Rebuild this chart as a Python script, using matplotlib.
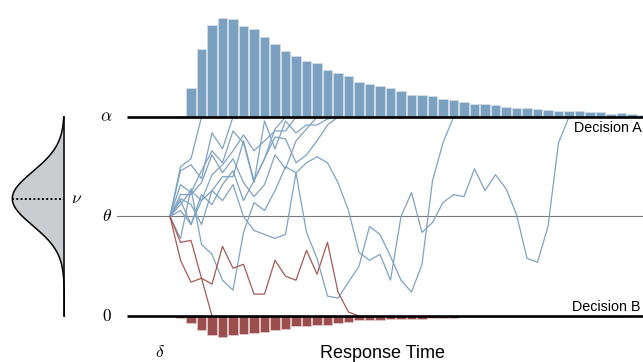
import numpy as np
import matplotlib
matplotlib.use("Agg")
import matplotlib.pyplot as plt

plt.rcParams['font.family'] = ['Liberation Sans', 'DejaVu Sans']
plt.rcParams['mathtext.fontset'] = 'cm'

# boundaries (evidence units)
alpha = 100
theta = 50
zero = 0

# response time histograms (bar heights, one bar per time step)
top_counts = [1, 29, 68, 92, 99, 98, 91, 88, 80, 73, 66, 61, 56, 54, 47, 44, 41, 35, 32.5, 30.5,
              29, 26, 22, 21.7, 20.7, 18, 17, 14.7, 13.3, 13, 11.7, 10, 8.7, 9.3, 8, 7.3, 6.3, 6.3,
              5.7, 4.7, 4.7, 3.3, 4, 3.3, 2.3]
bottom_counts = [1.5, 7, 14, 19, 21, 19, 18, 17, 16, 13.5, 13, 10, 10, 9, 8.5, 7, 6, 4, 4, 3.5,
                 3, 3, 2.5, 2.5, 2, 1.5, 1.5, 1.2, 1.2, 1, 1, 1, 0.9, 0.9, 0.8, 0.8, 0.7, 0.7,
                 0.6, 0.6, 0.5, 0.5, 0.5, 0.4, 0.4]

# sample paths hitting the upper boundary (Decision A)
paths_a = [
    [50, 75, 79, 100],
    [50, 73, 76, 69, 92, 84, 100],
    [50, 66, 62, 73, 83, 77, 93, 87, 67, 98, 84, 98, 92, 96, 96, 99, 100],
    [50, 39, 64, 36, 31, 18, 13, 42, 57, 53, 63, 75, 72, 42, 29, 10, 9, 17, 25, 45, 41, 30,
     18, 12, 26, 68, 87, 100],
    [50, 56, 63, 58, 71, 76, 83, 91, 83, 88, 93, 93, 100],
    [50, 53, 46, 61, 56, 66, 73, 58, 68, 79, 90, 89, 77, 81, 88, 96, 100],
    [50, 59, 56, 46, 63, 58, 66, 50, 43, 41, 39, 41, 72, 77, 80, 77, 67, 53, 32, 28, 31, 18,
     50, 62, 42, 47, 57, 61, 60, 74, 63, 71, 64, 51, 29, 27, 45, 87, 100],
    [50, 61, 61, 67, 81, 72, 79, 67, 60, 66, 81, 74, 88, 94, 100],
    [50, 58, 46, 58, 63, 70, 70, 88, 68, 79, 94, 100],
]
# sample paths hitting the lower boundary (Decision B)
paths_b = [
    [50, 37, 38, 19, 0],
    [50, 28, 17, 19, 16, 35, 24, 26, 11, 11, 28, 20, 18, 33, 21, 37, 12, 2, 0],
]

# drift rate distribution
drift_mean = 59
drift_sd = 13.6

blue = '#7ea2c4'
red = '#a45a56'
bar_blue = '#7ba0c0'
bar_red = '#9a4e4e'

# 10.5 px per time step, 1.99 px per evidence unit
px_t = 10.5
px_y = 1.99
t0_px = 170
W, H = 643, 362

fig = plt.figure(figsize=(W / 100, H / 100), dpi=100)
ax = fig.add_axes([0, 0, 1, 1])
ax.axis('off')
ax.set_xlim(-t0_px / px_t, (W - t0_px) / px_t)
ax.set_ylim((316 - H) / px_y, 316 / px_y)

# histograms
t_bins = np.arange(1, len(top_counts) + 1)
ax.bar(t_bins, np.array(top_counts) / px_y, bottom=alpha, width=0.88,
       color=bar_blue, edgecolor='#d4e0ea', linewidth=0.5, zorder=1)
t_bins = np.arange(1, len(bottom_counts) + 1)
ax.bar(t_bins, -np.array(bottom_counts) / px_y, bottom=zero, width=0.88,
       color=bar_red, edgecolor='#e6cccc', linewidth=0.5, zorder=1)

# theta line
ax.plot([-5.05, 46], [theta, theta], color='#7a7a7a', lw=0.8, zorder=2)

# paths
for p in paths_a:
    ax.plot(np.arange(len(p)), p, color=blue, lw=0.9, zorder=3)
for p in paths_b:
    ax.plot(np.arange(len(p)), p, color=red, lw=0.9, zorder=3)

# boundaries
ax.plot([-4.1, 46], [alpha, alpha], color='black', lw=1.9, solid_capstyle='butt', zorder=4)
ax.plot([-4.1, 46], [zero, zero], color='black', lw=1.9, solid_capstyle='butt', zorder=4)

# labels
ax.text(-6.03, alpha, r'$\alpha$', fontsize=12.5, ha='center', va='center')
ax.text(-6.0, theta, r'$\theta$', fontsize=12.5, ha='center', va='center')
ax.text(-6.0, zero, r'$0$', fontsize=12.5, ha='center', va='center')
ax.text(-0.95, -17.9, r'$\delta$', fontsize=12.5, ha='center', va='center')
ax.text(-9.45, drift_mean, r'$\nu$', fontsize=12.5, ha='left', va='center')
ax.text(20.2, -21.3, 'Response Time', fontsize=13, ha='center', va='baseline')
ax.text(44.9, 92.6, 'Decision A', fontsize=10.3, ha='right', va='baseline')
ax.text(44.8, 2.7, 'Decision B', fontsize=10.3, ha='right', va='baseline')

# drift distribution on the left
x_line = (64.3 - t0_px) / px_t
width = 52 / px_t
yy = np.linspace(zero, alpha, 400)
dens = np.exp(-0.5 * ((yy - drift_mean) / drift_sd) ** 2)
xx = x_line - width * dens
ax.fill_betweenx(yy, xx, x_line, color='#c9cdcf', lw=0, zorder=1)
ax.plot(xx, yy, color='black', lw=1.1, zorder=2)
ax.plot([x_line, x_line], [zero, alpha], color='black', lw=1.1, zorder=2)
ax.plot([x_line - width, x_line], [drift_mean, drift_mean], color='black', lw=1.4,
        linestyle=(0, (1, 1.2)), zorder=2)

fig.savefig('out.png', dpi=100)
